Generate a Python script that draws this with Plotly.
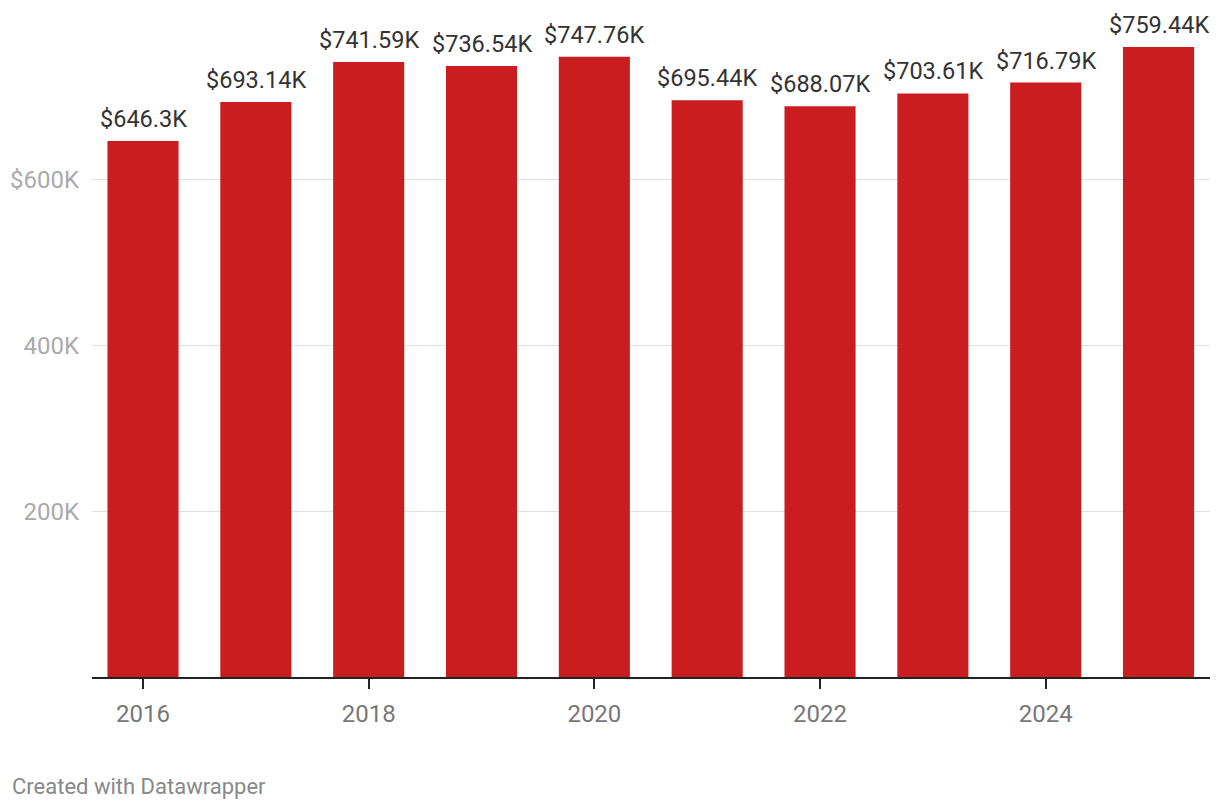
import plotly.graph_objects as go

years = [2016, 2017, 2018, 2019, 2020, 2021, 2022, 2023, 2024, 2025]
values = [646.3, 693.14, 741.59, 736.54, 747.76, 695.44, 688.07, 703.61, 716.79, 759.44]
labels = ["$646.3K", "$693.14K", "$741.59K", "$736.54K", "$747.76K",
          "$695.44K", "$688.07K", "$703.61K", "$716.79K", "$759.44K"]
y_tickvals = [200, 400, 600]
y_ticktext = ["200K", "400K", "$600K"]
x_tickvals = [2016, 2018, 2020, 2022, 2024]

fig = go.Figure()
fig.add_trace(go.Bar(
    x=years, y=values, width=0.63,
    marker=dict(color="#c91d1f", line=dict(width=0)),
    hoverinfo="x+y",
))

annotations = [
    dict(x=xv, y=yv, xref="x", yref="y", text=t, showarrow=False,
         xanchor="center", yanchor="bottom", yshift=6,
         font=dict(family="Roboto", size=23.5, color="#333333"))
    for xv, yv, t in zip(years, values, labels)
]
annotations.append(dict(
    text="Created with Datawrapper", xref="paper", yref="paper",
    x=(2 - 84) / 1118, y=(669.5 - 779) / 667.5, xanchor="left", yanchor="middle",
    showarrow=False, font=dict(family="Roboto", size=22, color="#888888"),
))

fig.update_layout(
    width=1220, height=810,
    margin=dict(l=84, r=18, t=2, b=140.5),
    plot_bgcolor="white", paper_bgcolor="white",
    showlegend=False,
    font=dict(family="Roboto"),
    xaxis=dict(
        range=[2015.548, 2025.456], automargin=False,
        tickvals=x_tickvals, ticktext=[str(v) for v in x_tickvals],
        showgrid=False, showline=True, linecolor="#222222", linewidth=2,
        ticks="outside", ticklen=10, tickwidth=2, tickcolor="#222222",
        tickfont=dict(family="Roboto", size=24, color="#777777"),
        ticklabelstandoff=4,
    ),
    yaxis=dict(
        range=[0, 804.2], automargin=False,
        tickvals=y_tickvals, ticktext=y_ticktext,
        showgrid=True, gridcolor="#e0e0e0", gridwidth=1,
        zeroline=False, showline=False, ticks="",
        tickfont=dict(family="Roboto", size=24, color="#aaaaaa"),
        ticklabelstandoff=12,
    ),
    annotations=annotations,
)

fig.write_html("out.html")
